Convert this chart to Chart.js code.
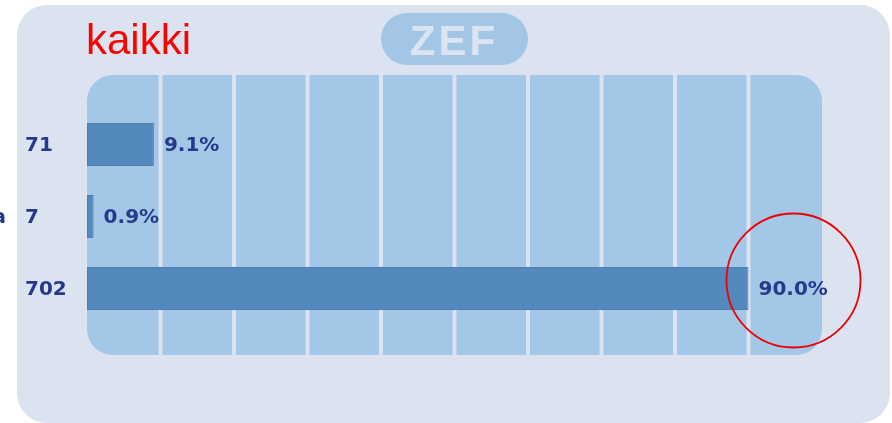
<!DOCTYPE html>
<html>
<head>
<meta charset="utf-8">
<script src="https://cdn.jsdelivr.net/npm/chart.js@4/dist/chart.umd.min.js"></script>
<style>
html,body{margin:0;padding:0;background:#ffffff;}
canvas{display:block;}
</style>
</head>
<body>
<canvas id="c" width="892" height="423"></canvas>
<script>
const title = "kaikki";
const badge = "ZEF";
const categories = ["Kyllä", "En osaa sanoa", "Ei"];
const counts = [71, 7, 702];
const percents = [9.1, 0.9, 90.0];
const gridTicks = [10, 20, 30, 40, 50, 60, 70, 80, 90];

const NAVY = "#26398c";

function rr(ctx, x, y, w, h, r) {
  ctx.beginPath();
  ctx.moveTo(x + r, y);
  ctx.lineTo(x + w - r, y);
  ctx.arcTo(x + w, y, x + w, y + r, r);
  ctx.lineTo(x + w, y + h - r);
  ctx.arcTo(x + w, y + h, x + w - r, y + h, r);
  ctx.lineTo(x + r, y + h);
  ctx.arcTo(x, y + h, x, y + h - r, r);
  ctx.lineTo(x, y + r);
  ctx.arcTo(x, y, x + r, y, r);
  ctx.closePath();
}

const backPlugin = {
  id: "back",
  beforeDatasetsDraw(chart) {
    const ctx = chart.ctx;
    const xs = chart.scales.x;
    const ca = chart.chartArea;
    ctx.save();
    // outer panel
    ctx.fillStyle = "#dbe2f0";
    rr(ctx, 17, 5, 873, 418, 30);
    ctx.fill();
    // title
    ctx.fillStyle = "#ff0000";
    ctx.font = "42px 'Liberation Sans', Arial, sans-serif";
    ctx.textBaseline = "alphabetic";
    ctx.textAlign = "left";
    ctx.fillText(title, 86, 54);
    // badge
    ctx.fillStyle = "#a3c6e6";
    rr(ctx, 381, 13, 147, 52, 26);
    ctx.fill();
    ctx.fillStyle = "#dce4f1";
    ctx.font = "bold 42px 'Liberation Sans', Arial, sans-serif";
    ctx.textAlign = "center";
    ctx.letterSpacing = "3px";
    ctx.fillText(badge, 454, 55);
    ctx.letterSpacing = "0px";
    // plot background
    const x0 = xs.getPixelForValue(0);
    const x1 = xs.getPixelForValue(100);
    const top = ca.top - 33.5;
    const bot = ca.bottom + 30.5;
    ctx.fillStyle = "#a3c7e7";
    rr(ctx, x0, top, x1 - x0, bot - top, 26);
    ctx.fill();
    // vertical grid lines
    ctx.fillStyle = "#dbe2f0";
    gridTicks.forEach(v => {
      const px = xs.getPixelForValue(v);
      ctx.fillRect(px - 2, top, 4, bot - top);
    });
    ctx.restore();
  },
  afterDatasetsDraw(chart) {
    const ctx = chart.ctx;
    const meta = chart.getDatasetMeta(0);
    ctx.save();
    ctx.textBaseline = "middle";
    ctx.fillStyle = NAVY;
    ctx.font = "bold 20px 'DejaVu Sans', sans-serif";
    meta.data.forEach((bar, i) => {
      const y = bar.y;
      ctx.textAlign = "left";
      ctx.fillText(percents[i].toFixed(1) + "%", bar.x + 10, y + 1);
      ctx.fillText(String(counts[i]), 25, y + 1);
    });
    // category labels (mostly outside the canvas)
    ctx.font = "bold 20px 'DejaVu Sans', sans-serif";
    const longest = Math.max(...categories.map(c => ctx.measureText(c).width));
    const startX = 6 - longest;
    meta.data.forEach((bar, i) => {
      ctx.textAlign = "left";
      ctx.fillText(categories[i], startX, bar.y + 1);
    });
    // red circle annotation
    ctx.strokeStyle = "#ee0000";
    ctx.lineWidth = 1.8;
    ctx.beginPath();
    ctx.arc(793.5, 280.5, 67, 0, Math.PI * 2);
    ctx.stroke();
    ctx.restore();
  }
};

new Chart(document.getElementById("c"), {
  type: "bar",
  data: {
    labels: categories,
    datasets: [{
      data: percents,
      backgroundColor: "#5389bd",
      borderColor: "#4c80b4",
      borderWidth: 1,
      borderSkipped: false,
      barPercentage: 0.6,
      categoryPercentage: 1.0
    }]
  },
  options: {
    indexAxis: "y",
    responsive: false,
    devicePixelRatio: 1,
    animation: false,
    layout: { padding: { left: 87, right: 70, top: 108.5, bottom: 98.5 } },
    plugins: { legend: { display: false }, tooltip: { enabled: false }, title: { display: false } },
    scales: {
      x: { display: false, min: 0, max: 100 },
      y: { display: false }
    }
  },
  plugins: [backPlugin]
});
</script>
</body>
</html>
